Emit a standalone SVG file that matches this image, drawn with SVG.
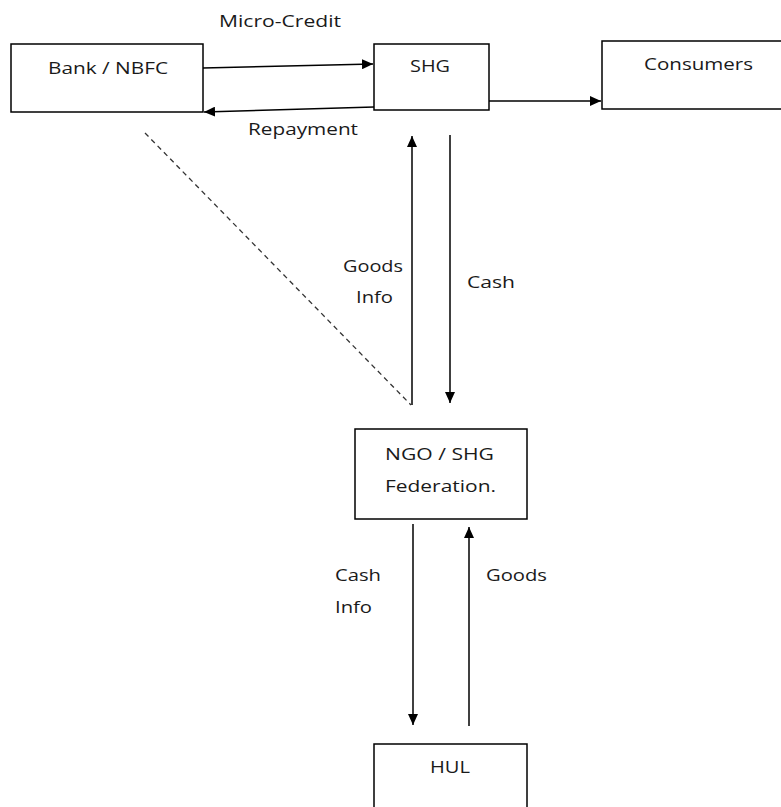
<svg xmlns="http://www.w3.org/2000/svg" width="781" height="807" viewBox="0 0 781 807">
<style>
.box{fill:#fff;stroke:#000;stroke-width:1.5}
.lbl{font-family:"Open Sans","Noto Sans",sans-serif;font-size:17px;fill:#1a1a1a}
.ln{stroke:#000;stroke-width:1.5;fill:none}
.dash{stroke:#333;stroke-width:1.3;stroke-dasharray:5,4;fill:none}
</style>
<defs>
<marker id="ah" viewBox="0 0 11 10" refX="11" refY="5" markerWidth="11" markerHeight="10" markerUnits="userSpaceOnUse" orient="auto">
<path d="M0,0 L11,5 L0,10 Z" fill="#000"/>
</marker>
</defs>
<rect width="781" height="807" fill="#fff"/>
<g id="bank"><rect class="box" x="11" y="44" width="192" height="68"/><text class="lbl" x="48" y="74" textLength="120" lengthAdjust="spacingAndGlyphs">Bank / NBFC</text></g>
<g id="shg"><rect class="box" x="374" y="44" width="115" height="66"/><text class="lbl" x="410" y="72" textLength="40" lengthAdjust="spacingAndGlyphs">SHG</text></g>
<g id="consumers"><rect class="box" x="602" y="41" width="190" height="68"/><text class="lbl" x="644" y="70" textLength="109" lengthAdjust="spacingAndGlyphs">Consumers</text></g>
<g id="ngo"><rect class="box" x="355" y="429" width="172" height="90"/><text class="lbl" x="385" y="460" textLength="109" lengthAdjust="spacingAndGlyphs">NGO / SHG</text><text class="lbl" x="385" y="492" textLength="111" lengthAdjust="spacingAndGlyphs">Federation.</text></g>
<g id="hul"><rect class="box" x="374" y="744" width="153" height="80"/><text class="lbl" x="430" y="773" textLength="40" lengthAdjust="spacingAndGlyphs">HUL</text></g>
<g id="connectors">
<line class="ln" x1="203" y1="68" x2="373" y2="64" marker-end="url(#ah)"/>
<line class="ln" x1="374" y1="107" x2="204" y2="112" marker-end="url(#ah)"/>
<line class="ln" x1="489" y1="101" x2="601" y2="101" marker-end="url(#ah)"/>
<line class="ln" x1="412" y1="405" x2="412" y2="136" marker-end="url(#ah)"/>
<line class="ln" x1="450" y1="135" x2="450" y2="403" marker-end="url(#ah)"/>
<line class="dash" x1="145" y1="133" x2="411" y2="405"/>
<line class="ln" x1="413" y1="524" x2="413" y2="725" marker-end="url(#ah)"/>
<line class="ln" x1="469" y1="726" x2="469" y2="527" marker-end="url(#ah)"/>
<text class="lbl" x="219" y="27" textLength="122" lengthAdjust="spacingAndGlyphs">Micro-Credit</text>
<text class="lbl" x="248" y="135" textLength="110" lengthAdjust="spacingAndGlyphs">Repayment</text>
<text class="lbl" x="343" y="272" textLength="60" lengthAdjust="spacingAndGlyphs">Goods</text>
<text class="lbl" x="356" y="303" textLength="37" lengthAdjust="spacingAndGlyphs">Info</text>
<text class="lbl" x="467" y="288" textLength="48" lengthAdjust="spacingAndGlyphs">Cash</text>
<text class="lbl" x="335" y="581" textLength="46" lengthAdjust="spacingAndGlyphs">Cash</text>
<text class="lbl" x="335" y="613" textLength="37" lengthAdjust="spacingAndGlyphs">Info</text>
<text class="lbl" x="486" y="581" textLength="61" lengthAdjust="spacingAndGlyphs">Goods</text>
</g>
</svg>
